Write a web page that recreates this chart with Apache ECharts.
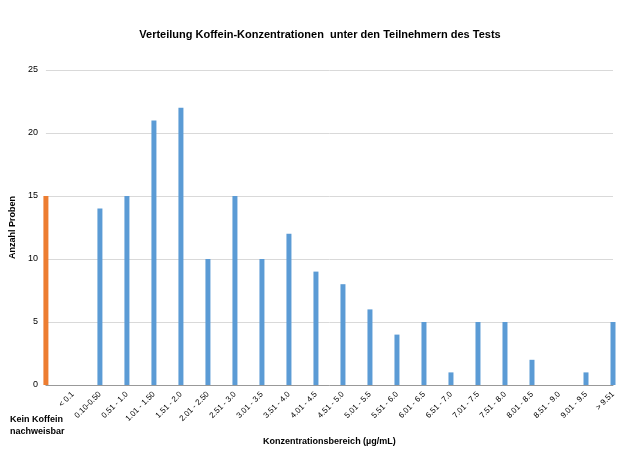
<!DOCTYPE html>
<html><head><meta charset="utf-8">
<script src="https://cdn.jsdelivr.net/npm/echarts@6/dist/echarts.min.js"></script>
<style>body{margin:0}#c{width:640px;height:469px}</style></head>
<body><div id="c"></div>
<script>
const categories = ['Kein Koffein\nnachweisbar', '< 0.1', '0.10-0.50', '0.51 - 1.0', '1.01 - 1.50', '1.51 - 2.0', '2.01 - 2.50', '2.51 - 3.0', '3.01 - 3.5', '3.51 - 4.0', '4.01 - 4.5', '4.51 - 5.0', '5.01 - 5.5', '5.51 - 6.0', '6.01 - 6.5', '6.51 - 7.0', '7.01 - 7.5', '7.51 - 8.0', '8.01 - 8.5', '8.51 - 9.0', '9.01 - 9.5', '> 9.51'];
const noCaffeine = [15];
const counts = [null, 0, 14, 15, 21, 22, 10, 15, 10, 12, 9, 8, 6, 4, 5, 1, 5, 5, 2, 0, 1, 5];

const chart = echarts.init(document.getElementById('c'));
chart.setOption({
  animation: false,
  title: {
    text: 'Verteilung Koffein-Konzentrationen  unter den Teilnehmern des Tests',
    left: 'center', top: 24,
    textStyle: { fontSize: 11, fontWeight: 'bold', color: '#000', fontFamily: 'Liberation Sans' }
  },
  grid: { left: 43, right: 27, top: 70, bottom: 84 },
  xAxis: {
    type: 'category', data: categories, boundaryGap: false,
    name: 'Konzentrationsbereich (µg/mL)', nameLocation: 'middle', nameGap: 52,
    nameTextStyle: { fontSize: 9, fontWeight: 'bold', color: '#000', fontFamily: 'Liberation Sans' },
    axisLine: { lineStyle: { color: '#999' } },
    axisTick: { show: false },
    axisLabel: {
      rotate: 45, interval: 0, fontSize: 8, color: '#000', fontFamily: 'Liberation Sans',
      formatter: (v, i) => i === 0 ? '' : v
    }
  },
  yAxis: {
    type: 'value', min: 0, max: 25, interval: 5,
    name: 'Anzahl Proben', nameLocation: 'middle', nameGap: 27,
    nameTextStyle: { fontSize: 9, fontWeight: 'bold', color: '#000', fontFamily: 'Liberation Sans' },
    axisLine: { show: false }, axisTick: { show: false },
    axisLabel: { fontSize: 9, color: '#000', fontFamily: 'Liberation Sans' },
    splitLine: { lineStyle: { color: '#d9d9d9' } }
  },
  graphic: [{
    type: 'text', left: 10, top: 414,
    style: { text: categories[0], fontSize: 9, fontWeight: 'bold', fill: '#000', fontFamily: 'Liberation Sans', lineHeight: 12 }
  }],
  series: [
    { type: 'bar', data: noCaffeine, barWidth: 5, barGap: '-100%', itemStyle: { color: '#ed7d31' } },
    { type: 'bar', data: counts, barWidth: 5, itemStyle: { color: '#5b9bd5' } }
  ]
});
</script></body></html>
